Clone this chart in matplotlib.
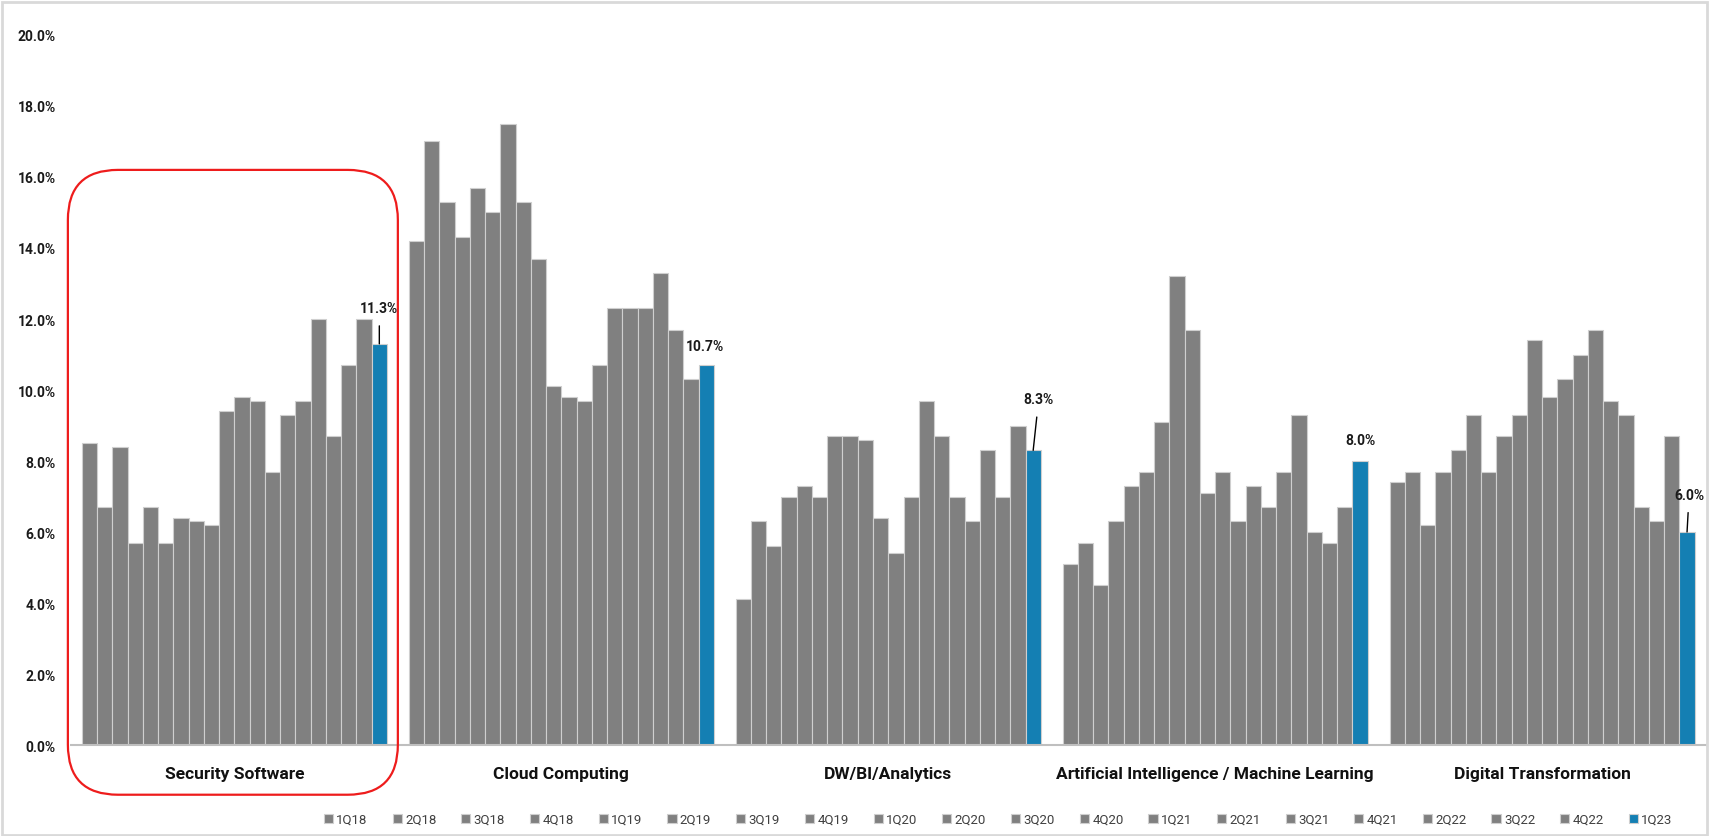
import numpy as np
import matplotlib
matplotlib.use("Agg")
import matplotlib.pyplot as plt
from matplotlib.patches import FancyBboxPatch, Rectangle
from matplotlib.transforms import IdentityTransform

plt.rcParams['font.family'] = ['Roboto', 'DejaVu Sans']

categories = ["Security Software", "Cloud Computing", "DW/BI/Analytics",
              "Artificial Intelligence / Machine Learning", "Digital Transformation"]
quarters = ["1Q18", "2Q18", "3Q18", "4Q18", "1Q19", "2Q19", "3Q19", "4Q19",
            "1Q20", "2Q20", "3Q20", "4Q20", "1Q21", "2Q21", "3Q21", "4Q21",
            "2Q22", "3Q22", "4Q22", "1Q23"]

security = [8.5, 6.7, 8.4, 5.7, 6.7, 5.7, 6.4, 6.3, 6.2, 9.4,
            9.8, 9.7, 7.7, 9.3, 9.7, 12.0, 8.7, 10.7, 12.0, 11.3]
cloud = [14.2, 17.0, 15.3, 14.3, 15.7, 15.0, 17.5, 15.3, 13.7, 10.1,
         9.8, 9.7, 10.7, 12.3, 12.3, 12.3, 13.3, 11.7, 10.3, 10.7]
dw_bi = [4.1, 6.3, 5.6, 7.0, 7.3, 7.0, 8.7, 8.7, 8.6, 6.4,
         5.4, 7.0, 9.7, 8.7, 7.0, 6.3, 8.3, 7.0, 9.0, 8.3]
ai_ml = [5.1, 5.7, 4.5, 6.3, 7.3, 7.7, 9.1, 13.2, 11.7, 7.1,
         7.7, 6.3, 7.3, 6.7, 7.7, 9.3, 6.0, 5.7, 6.7, 8.0]
digital = [7.4, 7.7, 6.2, 7.7, 8.3, 9.3, 7.7, 8.7, 9.3, 11.4,
           9.8, 10.3, 11.0, 11.7, 9.7, 9.3, 6.7, 6.3, 8.7, 6.0]

values = np.array([security, cloud, dw_bi, ai_ml, digital])
n_cat, n_q = values.shape

gray = "#808080"
blue = "#147fb3"
slot = n_q + 1.43          # bars per group plus the gap between groups
margin = (slot - n_q) / 2

fig = plt.figure(figsize=(17.09, 8.37), dpi=100)
ax = fig.add_axes([0.0415, 0.1087, 0.9565, 0.8483])

x0 = np.arange(n_cat) * slot + margin
for q in range(n_q):
    color = blue if q == n_q - 1 else gray
    ax.bar(x0 + q + 0.5, values[:, q], width=1.0, color=color,
           edgecolor="#cfcfcf", linewidth=0.8, label=quarters[q])

ax.set_xlim(0, n_cat * slot)
ax.set_ylim(0, 20)
ax.set_yticks(np.arange(0, 20.1, 2))
ax.set_yticklabels([f"{v:.1f}%" for v in np.arange(0, 20.1, 2)],
                   fontsize=10, fontweight="bold", color="#1a1a1a")
ax.set_xticks(x0 + n_q / 2)
ax.set_xticklabels(categories, fontsize=12.5, fontweight="bold", color="#111111")
ax.tick_params(axis="both", length=0)
ax.tick_params(axis="y", pad=11)
ax.tick_params(axis="x", pad=15)
for s in ["top", "right", "left"]:
    ax.spines[s].set_visible(False)
ax.spines["bottom"].set_color("#bfbfbf")
ax.spines["bottom"].set_linewidth(1.5)

# latest-quarter value labels, some with leader lines
offsets = [(0, 26, True), (-1, 14, False), (4, 37, True), (0, 15, False), (1.5, 27, True)]
for g, (dx, dy, line) in enumerate(offsets):
    xb = x0[g] + n_q - 0.5
    v = values[g, -1]
    arrow = dict(arrowstyle="-", color="black", lw=1, shrinkA=6, shrinkB=0) if line else None
    ax.annotate(f"{v:.1f}%", xy=(xb, v), xytext=(dx, dy), textcoords="offset points",
                ha="center", va="center", fontsize=10, fontweight="bold",
                color="#1a1a1a", arrowprops=arrow)

leg = fig.legend(loc="center", bbox_to_anchor=(0.584, 0.02), ncol=n_q, frameon=False,
                 handlelength=0.7, handleheight=0.7, handletextpad=0.25,
                 columnspacing=1.88, fontsize=9.5)
for t in leg.get_texts():
    t.set_color("#404040")

# red highlight around the first group
fig.canvas.draw()
p0 = ax.transData.transform((x0[0] - margin - 0.2, -1.4))
p1 = ax.transData.transform((x0[0] + n_q + margin, 16.2))
box = FancyBboxPatch((p0[0], p0[1]), p1[0] - p0[0], p1[1] - p0[1],
                     boxstyle="round,pad=0,rounding_size=50", transform=IdentityTransform(),
                     fill=False, edgecolor="#ee1c1c", linewidth=1.6, clip_on=False)
fig.patches.append(box)

fig.patches.append(Rectangle((0.001, 0.001), 0.998, 0.996, transform=fig.transFigure,
                             fill=False, edgecolor="#d9d9d9", linewidth=2))

fig.savefig("out.png", dpi=100)
